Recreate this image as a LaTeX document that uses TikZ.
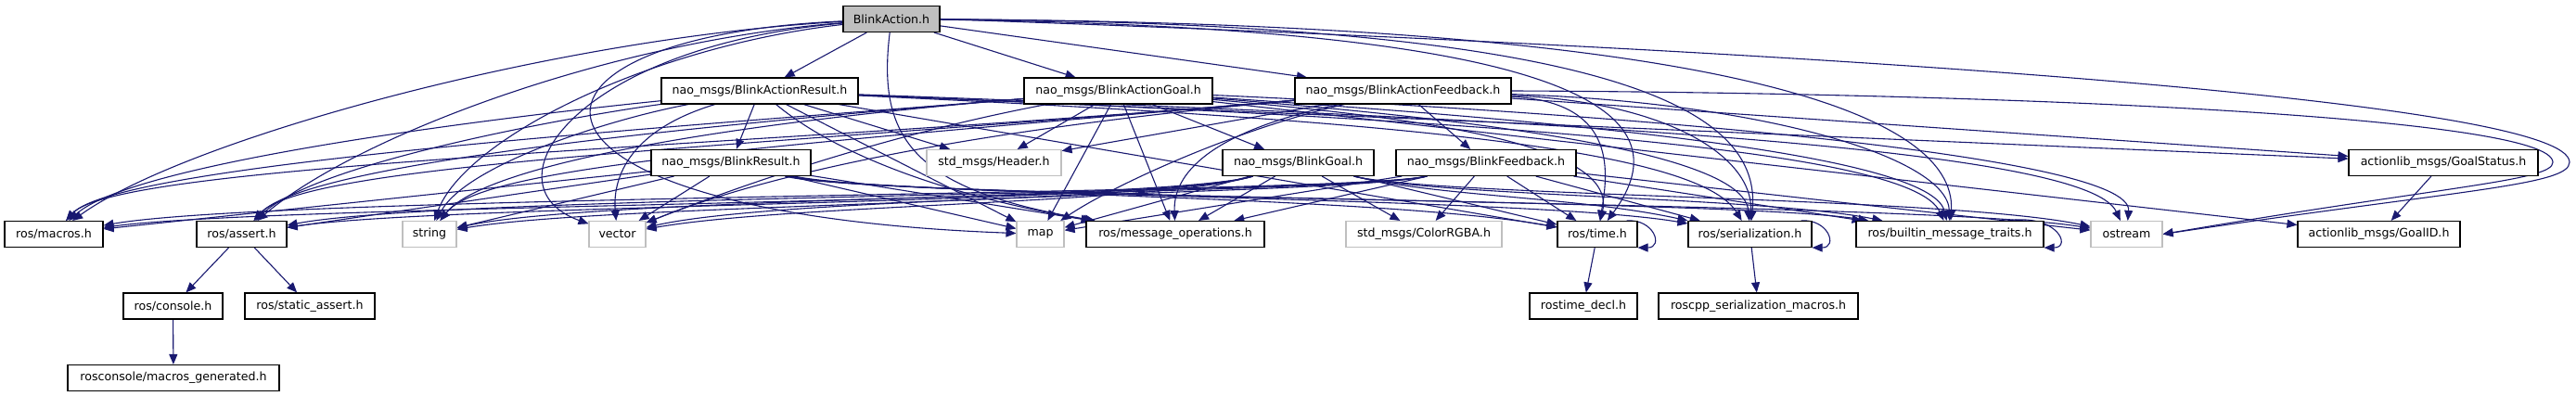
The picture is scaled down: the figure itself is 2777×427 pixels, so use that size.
\documentclass[tikz,border=0pt]{standalone}
\usepackage{fontspec}
\setmainfont{DejaVu Sans}
\usetikzlibrary{arrows.meta}
\definecolor{edgec}{HTML}{191970}
\definecolor{grey75}{HTML}{BFBFBF}
\pgfdeclarelayer{edges}
\pgfsetlayers{edges,main}
\begin{document}
\begin{tikzpicture}[x=0.5pt,y=-0.5pt,
  box/.style={draw=black, line width=0.55pt, fill=white, inner sep=0pt, minimum height=14pt,
    font=\fontsize{6.3pt}{7.5pt}\selectfont, text=black},
  gbox/.style={box, draw=grey75},
  e/.style={draw=edgec, line width=0.55pt, -{Triangle[length=5.5pt,width=4.5pt]}}]
\useasboundingbox (0,0) rectangle (2777,427);
% row 0
\node[box, fill=grey75, minimum width=52pt] (ba) at (961,20.5) {BlinkAction.h};
% row 1
\node[box, minimum width=106pt] (ar) at (819,98) {nao\_msgs/BlinkActionResult.h};
\node[box, minimum width=101.5pt] (ag) at (1205.5,98) {nao\_msgs/BlinkActionGoal.h};
\node[box, minimum width=116.5pt] (af) at (1512.5,98) {nao\_msgs/BlinkActionFeedback.h};
% row 2
\node[box, minimum width=86pt] (br) at (788,175.5) {nao\_msgs/BlinkResult.h};
\node[gbox, minimum width=72.5pt] (hdr) at (1071.5,175.5) {std\_msgs/Header.h};
\node[box, minimum width=81.5pt] (bg) at (1399.5,175.5) {nao\_msgs/BlinkGoal.h};
\node[box, minimum width=97pt] (bf) at (1602,175.5) {nao\_msgs/BlinkFeedback.h};
\node[box, minimum width=102pt] (gs) at (2634,175.5) {actionlib\_msgs/GoalStatus.h};
% row 3
\node[box, minimum width=53pt] (mac) at (58,252.5) {ros/macros.h};
\node[box, minimum width=48.5pt] (asr) at (260.5,252.5) {ros/assert.h};
\node[gbox, minimum width=29pt] (str) at (463,252.5) {string};
\node[gbox, minimum width=30.5pt] (vec) at (665.5,252.5) {vector};
\node[gbox, minimum width=25.5pt] (map) at (1121.5,252.5) {map};
\node[box, minimum width=96pt] (mop) at (1267,252.5) {ros/message\_operations.h};
\node[gbox, minimum width=84pt] (rgba) at (1535,252.5) {std\_msgs/ColorRGBA.h};
\node[box, minimum width=43pt] (tm) at (1722,252.5) {ros/time.h};
\node[box, minimum width=66.5pt] (ser) at (1886.5,252.5) {ros/serialization.h};
\node[box, minimum width=101pt] (bmt) at (2102,252.5) {ros/builtin\_message\_traits.h};
\node[gbox, minimum width=38.5pt] (os) at (2292.5,252.5) {ostream};
\node[box, minimum width=87.5pt] (gid) at (2564.5,252.5) {actionlib\_msgs/GoalID.h};
% row 4
\node[box, minimum width=53.5pt] (con) at (186.5,330) {ros/console.h};
\node[box, minimum width=70pt] (sas) at (334,330) {ros/static\_assert.h};
\node[box, minimum width=58pt] (rtd) at (1707,330) {rostime\_decl.h};
\node[box, minimum width=107.5pt] (rsm) at (1895.5,330) {roscpp\_serialization\_macros.h};
% row 5
\node[box, minimum width=114pt] (mg) at (187,407.5) {rosconsole/macros\_generated.h};
\coordinate (loopA) at (2770,175);
\coordinate (loopB) at (2752,175);

\begin{pgfonlayer}{edges}
% BlinkAction.h
\draw[e] (ba) -- (ar);
\draw[e] (ba) -- (ag);
\draw[e] (ba) -- (af);
\draw[e] (ba) .. controls (600,40) and (200,150) .. (mac);
\draw[e] (ba) .. controls (650,45) and (380,150) .. (asr);
\draw[e] (ba) .. controls (700,50) and (500,150) .. (str);
\draw[e] (ba) .. controls (620,50) and (520,200) .. (vec);
\draw[e] (ba) .. controls (520,40) and (520,230) .. (map);
\draw[e] (ba) .. controls (945,150) and (985,205) .. (mop);
\draw[e] (ba) .. controls (1700,30) and (1820,120) .. (tm);
\draw[e] (ba) .. controls (1750,25) and (1900,120) .. (ser);
\draw[e] (ba) .. controls (1850,25) and (2110,120) .. (bmt);
\draw[e] (ba.east) .. controls (2000,55) and (2770,110) .. (loopA)
   .. controls (2770,200) and (2650,205) .. (os.east);
% BlinkActionResult.h
\draw[e] (ar) -- (hdr);
\draw[e] (ar) -- (gs);
\draw[e] (ar) -- (br);
\draw[e] (ar) .. controls (600,120) and (150,170) .. (mac);
\draw[e] (ar) .. controls (620,125) and (340,175) .. (asr);
\draw[e] (ar) .. controls (650,130) and (500,180) .. (str);
\draw[e] (ar) .. controls (680,140) and (660,190) .. (vec);
\draw[e] (ar) -- (map);
\draw[e] (ar) .. controls (930,190) and (1100,225) .. (mop);
\draw[e] (ar) -- (tm);
\draw[e] (ar) .. controls (1500,130) and (1830,160) .. (ser);
\draw[e] (ar) .. controls (1600,130) and (2060,160) .. (bmt);
\draw[e] (ar) .. controls (1700,130) and (2250,160) .. (os);
% BlinkActionGoal.h
\draw[e] (ag) -- (hdr);
\draw[e] (ag) -- (gid);
\draw[e] (ag) -- (bg);
\draw[e] (ag) .. controls (760,135) and (128,175) .. (mac);
\draw[e] (ag) .. controls (760,135) and (330,175) .. (asr);
\draw[e] (ag) .. controls (760,135) and (520,180) .. (str);
\draw[e] (ag) .. controls (930,150) and (760,215) .. (vec);
\draw[e] (ag) -- (map);
\draw[e] (ag) -- (mop);
\draw[e] (ag) .. controls (1500,125) and (1745,150) .. (tm);
\draw[e] (ag) .. controls (1550,125) and (1880,160) .. (ser);
\draw[e] (ag) .. controls (1600,125) and (2080,160) .. (bmt);
\draw[e] (ag) .. controls (1700,120) and (2300,165) .. (os);
% BlinkActionFeedback.h
\draw[e] (af) -- (hdr);
\draw[e] (af) -- (gs);
\draw[e] (af) -- (bf);
\draw[e] (af) .. controls (800,160) and (128,175) .. (mac);
\draw[e] (af) .. controls (800,160) and (330,175) .. (asr);
\draw[e] (af) .. controls (800,160) and (520,180) .. (str);
\draw[e] (af) .. controls (930,150) and (760,215) .. (vec);
\draw[e] (af) .. controls (1330,140) and (1200,200) .. (map);
\draw[e] (af) .. controls (1290,145) and (1265,195) .. (mop);
\draw[e] (af) .. controls (1740,110) and (1735,180) .. (tm);
\draw[e] (af) .. controls (1800,110) and (1890,170) .. (ser);
\draw[e] (af) .. controls (1900,110) and (2100,170) .. (bmt);
\draw[e] (af.east) .. controls (2150,100) and (2752,125) .. (loopB)
   .. controls (2752,195) and (2640,200) .. (os.east);
% BlinkResult.h
\draw[e] (br) -- (mac);
\draw[e] (br) -- (asr);
\draw[e] (br) -- (str);
\draw[e] (br) -- (vec);
\draw[e] (br) -- (map);
\draw[e] (br) -- (mop);
\draw[e] (br) .. controls (950,210) and (1480,210) .. (tm);
\draw[e] (br) .. controls (950,212) and (1650,212) .. (ser);
\draw[e] (br) .. controls (950,214) and (1870,214) .. (bmt);
\draw[e] (br) .. controls (950,216) and (2070,216) .. (os);
% BlinkGoal.h
\draw[e] (bg) .. controls (1250,220) and (300,220) .. (mac);
\draw[e] (bg) .. controls (1250,220) and (480,220) .. (asr);
\draw[e] (bg) .. controls (1250,220) and (650,220) .. (str);
\draw[e] (bg) .. controls (1250,220) and (850,220) .. (vec);
\draw[e] (bg) -- (map);
\draw[e] (bg) -- (mop);
\draw[e] (bg) -- (rgba);
\draw[e] (bg) -- (tm);
\draw[e] (bg) .. controls (1550,212) and (1700,212) .. (ser);
\draw[e] (bg) .. controls (1550,212) and (1900,212) .. (bmt);
\draw[e] (bg) .. controls (1550,212) and (2100,212) .. (os);
% BlinkFeedback.h
\draw[e] (bf) .. controls (1450,210) and (300,210) .. (mac);
\draw[e] (bf) .. controls (1450,210) and (480,210) .. (asr);
\draw[e] (bf) .. controls (1450,210) and (650,210) .. (str);
\draw[e] (bf) .. controls (1450,210) and (850,210) .. (vec);
\draw[e] (bf) -- (map);
\draw[e] (bf) -- (mop);
\draw[e] (bf) -- (rgba);
\draw[e] (bf) -- (tm);
\draw[e] (bf) -- (ser);
\draw[e] (bf) -- (bmt);
\draw[e] (bf) -- (os);
% others
\draw[e] (gs) -- (gid);
\draw[e] (asr) -- (con);
\draw[e] (asr) -- (sas);
\draw[e] (con) -- (mg);
\draw[e] (tm) -- (rtd);
\draw[e] (ser) -- (rsm);
% self loops
\draw[e] (tm.north east) ++(-12,0) .. controls +(30,-2) and +(28,0) .. (tm.south east);
\draw[e] (ser.north east) ++(-12,0) .. controls +(30,-2) and +(28,0) .. (ser.south east);
\draw[e] (bmt.north east) ++(-40,0) .. controls +(55,-8) and +(30,0) .. (bmt.south east);
\end{pgfonlayer}
\end{tikzpicture}
\end{document}
